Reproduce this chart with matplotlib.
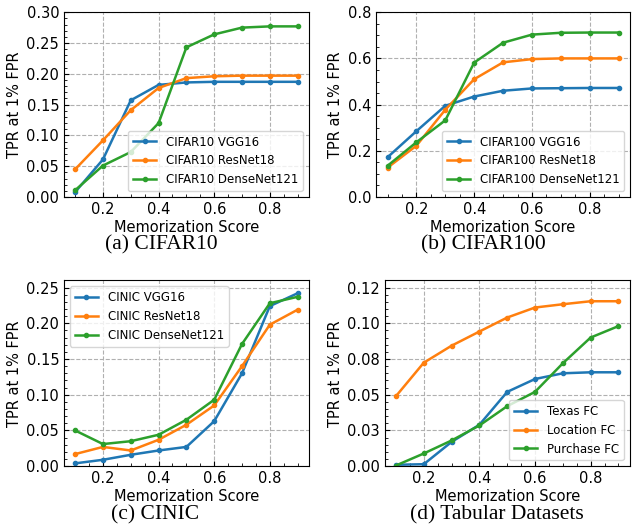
import numpy as np
import matplotlib
matplotlib.use('Agg')
import matplotlib.pyplot as plt
from matplotlib.ticker import AutoMinorLocator, FixedLocator

# memorization score bins
scores = [0.1, 0.2, 0.3, 0.4, 0.5, 0.6, 0.7, 0.8, 0.9]

# (a) CIFAR10
cifar10_vgg = [0.008, 0.061, 0.157, 0.182, 0.186, 0.187, 0.187, 0.187, 0.187]
cifar10_res = [0.045, 0.092, 0.141, 0.177, 0.193, 0.196, 0.197, 0.197, 0.197]
cifar10_dense = [0.011, 0.051, 0.073, 0.120, 0.243, 0.264, 0.275, 0.277, 0.277]

# (b) CIFAR100
cifar100_vgg = [0.172, 0.285, 0.395, 0.435, 0.460, 0.470, 0.471, 0.472, 0.472]
cifar100_res = [0.127, 0.222, 0.378, 0.510, 0.583, 0.597, 0.600, 0.600, 0.600]
cifar100_dense = [0.135, 0.237, 0.332, 0.582, 0.668, 0.703, 0.711, 0.712, 0.712]

# (c) CINIC
cinic_vgg = [0.004, 0.009, 0.016, 0.022, 0.027, 0.063, 0.130, 0.224, 0.242]
cinic_res = [0.017, 0.027, 0.022, 0.037, 0.058, 0.085, 0.140, 0.198, 0.219]
cinic_dense = [0.050, 0.031, 0.035, 0.044, 0.065, 0.093, 0.171, 0.228, 0.237]

# (d) tabular
texas = [0.001, 0.0014, 0.017, 0.029, 0.052, 0.061, 0.065, 0.0657, 0.0657]
location = [0.049, 0.0724, 0.0843, 0.0942, 0.104, 0.111, 0.1133, 0.1154, 0.1154]
purchase = [0.0005, 0.0089, 0.018, 0.0285, 0.042, 0.052, 0.072, 0.090, 0.098]

tab_ticks = [0.0, 0.025, 0.05, 0.075, 0.1, 0.125]
tab_labels = ['0.00', '0.03', '0.05', '0.08', '0.10', '0.12']

plt.rcParams['font.size'] = 10.5

fig = plt.figure(figsize=(6.34, 5.31), dpi=100)
axes = [
    fig.add_axes([0.101, 0.629, 0.386, 0.348]),
    fig.add_axes([0.593, 0.629, 0.401, 0.348]),
    fig.add_axes([0.101, 0.122, 0.386, 0.350]),
    fig.add_axes([0.607, 0.122, 0.386, 0.350]),
]

panels = [
    ([cifar10_vgg, cifar10_res, cifar10_dense],
     ['CIFAR10 VGG16', 'CIFAR10 ResNet18', 'CIFAR10 DenseNet121'], 'lower right', (0, 0.30)),
    ([cifar100_vgg, cifar100_res, cifar100_dense],
     ['CIFAR100 VGG16', 'CIFAR100 ResNet18', 'CIFAR100 DenseNet121'], 'lower right', (0, 0.8)),
    ([cinic_vgg, cinic_res, cinic_dense],
     ['CINIC VGG16', 'CINIC ResNet18', 'CINIC DenseNet121'], 'upper left', (0, 0.26)),
    ([texas, location, purchase],
     ['Texas FC', 'Location FC', 'Purchase FC'], 'lower right', (0, 0.13)),
]
captions = ['(a) CIFAR10', '(b) CIFAR100', '(c) CINIC', '(d) Tabular Datasets']
cap_pos = [(0.254, 0.538), (0.763, 0.538), (0.245, 0.030), (0.784, 0.030)]

for ax, (series, labels, loc, ylim), cap, (cx, cy) in zip(axes, panels, captions, cap_pos):
    for s, lab in zip(series, labels):
        ax.plot(scores, s, marker='o', markersize=3, linewidth=1.8, label=lab)
    ax.set_ylim(*ylim)
    ax.set_xlabel('Memorization Score', labelpad=2)
    ax.set_ylabel('TPR at 1% FPR', labelpad=3)
    ax.grid(True, linestyle='--', color='#b0b0b0', linewidth=0.8)
    ax.xaxis.set_minor_locator(AutoMinorLocator())
    ax.yaxis.set_minor_locator(AutoMinorLocator())
    ax.tick_params(which='both', direction='in')
    ax.legend(loc=loc, fontsize=8.5)
    fig.text(cx, cy, cap, ha='center', va='center', family='Liberation Serif', fontsize=15.5)

axes[3].yaxis.set_major_locator(FixedLocator(tab_ticks))
axes[3].set_yticklabels(tab_labels)
axes[3].yaxis.set_minor_locator(AutoMinorLocator())

fig.savefig('out.png', dpi=100)
